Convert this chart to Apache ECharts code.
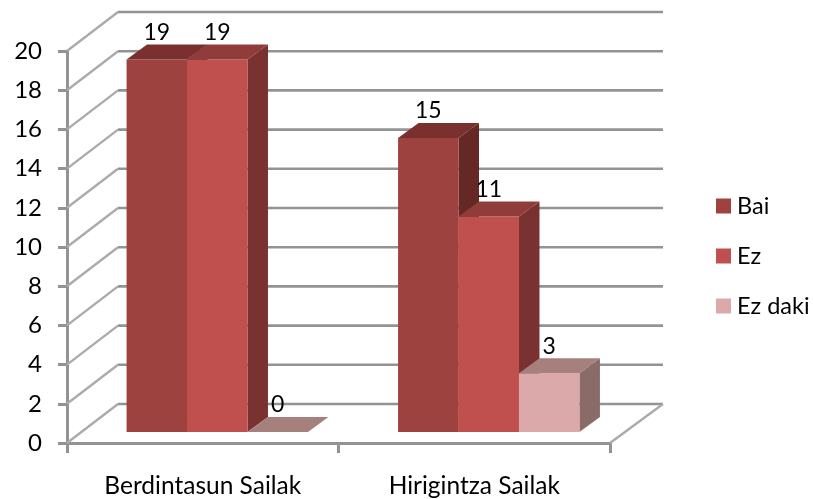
<!DOCTYPE html>
<html><head><meta charset="utf-8">
<script src="https://cdn.jsdelivr.net/npm/echarts@6/dist/echarts.min.js"></script>
<style>html,body{margin:0;padding:0;background:#fff}#c{width:813px;height:499px}</style>
</head><body><div id="c"></div>
<script>
const categories = ['Berdintasun Sailak', 'Hirigintza Sailak'];
const bai = [19, 15];
const ez = [19, 11];
const ezDaki = [0, 3];
const yTicks = [0, 2, 4, 6, 8, 10, 12, 14, 16, 18, 20];
const seriesNames = ['Bai', 'Ez', 'Ez daki'];
const FONT = 'Lato, "Open Sans", sans-serif';

const WALL = [51, -39], PLANE = [14.5, -11], DEPTH = [20.5, -15];
const GROUP_SHARE = 0.668;

const chart = echarts.init(document.getElementById('c'), null, {renderer: 'canvas'});

function wallItem(params, api) {
  const v = api.value(0);
  const band = api.size([1, 0])[0];
  const a = api.coord([0, v]);
  const x0 = a[0] - band / 2, y = a[1];
  const x1 = x0 + band * 2;
  const children = [
    {type: 'line', shape: {x1: x0 + WALL[0], y1: y + WALL[1], x2: x1 + WALL[0] + 2, y2: y + WALL[1]},
     style: {stroke: '#939393', lineWidth: 2.6}},
    {type: 'line', shape: {x1: x0, y1: y, x2: x0 + WALL[0], y2: y + WALL[1]},
     style: {stroke: '#ababab', lineWidth: 2.4}}
  ];
  if (v === 0) {
    children.push({type: 'line', shape: {x1: x1, y1: y, x2: x1 + WALL[0] + 2, y2: y + WALL[1]},
      style: {stroke: '#ababab', lineWidth: 2.4}});
  }
  return {type: 'group', children};
}

function barRenderer(idx, front, top, side) {
  return function (params, api) {
    const cat = api.value(0), val = api.value(1);
    const band = api.size([1, 0])[0];
    const c = api.coord([cat, val]), base = api.coord([cat, 0]);
    const w = band * GROUP_SHARE / 3;
    const l = c[0] - band * GROUP_SHARE / 2 + idx * w + PLANE[0];
    const r = l + w;
    const yb = base[1] + PLANE[1], yt = c[1] + PLANE[1];
    const dx = DEPTH[0], dy = DEPTH[1];
    const children = [];
    if (val > 0) {
      children.push({type: 'polygon', shape: {points: [[r, yb], [r + dx, yb + dy], [r + dx, yt + dy], [r, yt]]}, style: {fill: side}});
      children.push({type: 'rect', shape: {x: l, y: yt, width: w, height: yb - yt}, style: {fill: front}});
    }
    children.push({type: 'polygon', shape: {points: [[l, yt], [l + dx, yt + dy], [r + dx, yt + dy], [r, yt]]}, style: {fill: top}});
    children.push({type: 'text', style: {text: String(val), x: (l + r) / 2, y: yt - 27, fill: '#000',
      font: '23px ' + FONT, textAlign: 'center', textVerticalAlign: 'middle'}});
    return {type: 'group', children};
  };
}

const rows = (vals) => vals.map((v, i) => [i, v]);

chart.setOption({
  animation: false,
  backgroundColor: '#fff',
  grid: {left: 67, top: 51, width: 543, height: 392, containLabel: false, outerBoundsMode: 'none'},
  legend: {
    orient: 'vertical', left: 711, top: 189, icon: 'rect', itemWidth: 15, itemHeight: 15, itemGap: 26,
    data: seriesNames, textStyle: {fontFamily: FONT, fontSize: 23.5, lineHeight: 20, color: '#000', padding: [0, 0, 0, 1]}
  },
  xAxis: {
    type: 'category', data: categories, boundaryGap: true,
    axisLine: {show: true, lineStyle: {color: '#939393', width: 3}},
    axisTick: {show: true, alignWithLabel: false, length: 10, lineStyle: {color: '#939393', width: 3}},
    axisLabel: {color: '#000', fontFamily: FONT, fontSize: 24.5, margin: 31}
  },
  yAxis: {
    type: 'value', min: 0, max: 20, interval: 2,
    axisLine: {show: true, lineStyle: {color: '#939393', width: 3}},
    axisTick: {show: true, length: 9, lineStyle: {color: '#939393', width: 3}},
    splitLine: {show: false},
    axisLabel: {color: '#000', fontFamily: FONT, fontSize: 24, margin: 25}
  },
  series: [
    {type: 'custom', name: 'walls', data: yTicks.map(v => [v]), renderItem: wallItem, silent: true, z: 1, clip: false, encode: {y: 0}},
    {type: 'custom', name: seriesNames[0], data: rows(bai), itemStyle: {color: '#9e4240'}, z: 2, clip: false,
     renderItem: barRenderer(0, '#9e4240', '#7a302f', '#652825'), encode: {x: 0, y: 1}},
    {type: 'custom', name: seriesNames[1], data: rows(ez), itemStyle: {color: '#c0504d'}, z: 3, clip: false,
     renderItem: barRenderer(1, '#c0504d', '#8f3c3a', '#7a3230'), encode: {x: 0, y: 1}},
    {type: 'custom', name: seriesNames[2], data: rows(ezDaki), itemStyle: {color: '#dba9a9'}, z: 4, clip: false,
     renderItem: barRenderer(2, '#dba9a9', '#a6807d', '#8a6b68'), encode: {x: 0, y: 1}}
  ]
});
</script></body></html>
